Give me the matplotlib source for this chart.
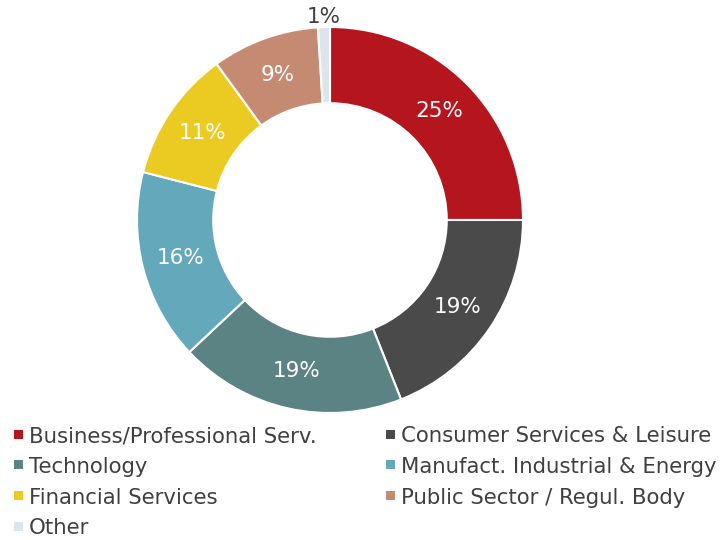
import matplotlib
matplotlib.use('Agg')
import matplotlib.pyplot as plt
from matplotlib.patches import Rectangle

# 行业分布数据
sectors = ['Business/Professional Serv.', 'Consumer Services & Leisure', 'Technology',
           'Manufact. Industrial & Energy', 'Financial Services', 'Public Sector / Regul. Body',
           'Other']
shares = [25, 19, 19, 16, 11, 9, 1]
colors = ['#B5161E', '#4A4A4A', '#5C8383', '#64A8BC', '#EBCB22', '#C48A72', '#DCE4EC']

TXT = '#404040'
plt.rcParams['font.family'] = ['DejaVu Sans']

fig = plt.figure(figsize=(7.24, 5.4), dpi=100)
W, H = 724, 540
cx, cy, R = 330, 220, 193
ax = fig.add_axes([(cx - R) / W, (H - cy - R) / H, 2 * R / W, 2 * R / H])

wedges, texts, autotexts = ax.pie(
    shares, colors=colors, startangle=90, counterclock=False, radius=1,
    wedgeprops=dict(width=0.395, edgecolor='white', linewidth=1.5),
    autopct='%d%%', pctdistance=0.80,
    textprops=dict(color='white', fontsize=15.5))
# 1% 放到环外
autotexts[-1].set_color(TXT)
x, y = autotexts[-1].get_position()
autotexts[-1].set_position((x * 1.315, y * 1.315))
ax.set_xlim(-1, 1)
ax.set_ylim(-1, 1)
ax.set_aspect('equal')
ax.axis('off')

# 图例：两列，逐行排列 (像素坐标)
col_x = [14, 386]
row_y0, row_dy = 434, 30.8
for i, (name, c) in enumerate(zip(sectors, colors)):
    row, col = divmod(i, 2)
    px, py = col_x[col], row_y0 + row * row_dy
    fig.patches.append(Rectangle(((px) / W, (H - py - 4.5) / H), 9 / W, 9 / H,
                                 transform=fig.transFigure, facecolor=c, edgecolor='none'))
    fig.text((px + 15) / W, (H - py) / H, name, fontsize=15.3, color=TXT,
             ha='left', va='center_baseline')

fig.savefig('out.png', dpi=100)
